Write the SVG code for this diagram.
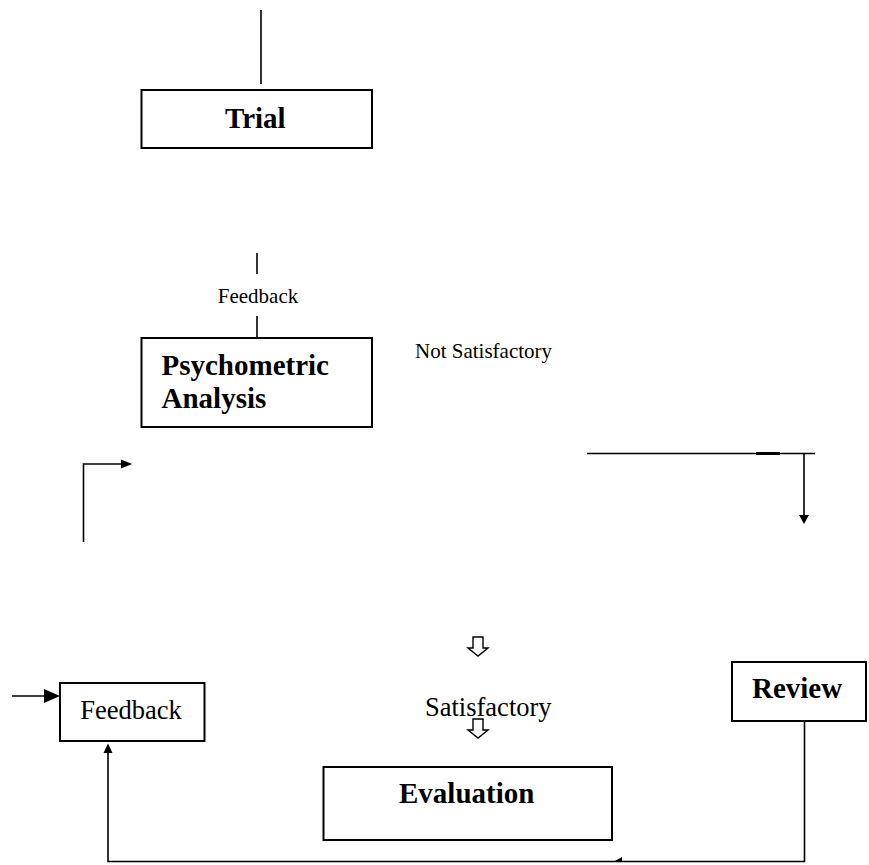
<svg xmlns="http://www.w3.org/2000/svg" width="869" height="865" viewBox="0 0 869 865">
  <style>
    .box { fill: #fff; stroke: #000; stroke-width: 2; }
    .ln { fill: none; stroke: #000; stroke-width: 1.6; }
    .head { fill: #000; stroke: none; }
    .hollow { fill: #fff; stroke: #000; stroke-width: 1.4; stroke-linejoin: miter; }
    .title { font-family: "Liberation Serif", "Times New Roman", serif; font-weight: bold; font-size: 29px; fill: #000; }
    .label { font-family: "Liberation Serif", "Times New Roman", serif; font-size: 26.5px; fill: #000; }
    .small { font-family: "Liberation Serif", "Times New Roman", serif; font-size: 21px; fill: #000; }
  </style>
  <defs>
    <path id="hollowDown" d="M -5 0 L 5 0 L 5 11 L 10 11 L 0 19 L -10 11 L -5 11 Z"/>
  </defs>

  <g id="connectors">
    <!-- line into Trial -->
    <line class="ln" x1="261" y1="10" x2="261" y2="84"/>
    <!-- Feedback link above Psychometric Analysis -->
    <line class="ln" x1="257" y1="253" x2="257" y2="274"/>
    <line class="ln" x1="257" y1="316" x2="257" y2="338"/>
    <text class="small" x="258" y="303" text-anchor="middle">Feedback</text>
    <text class="small" x="415" y="358">Not Satisfactory</text>
    <!-- elbow arrow on the left -->
    <polyline class="ln" points="83.5,542 83.5,464 122,464"/>
    <path class="head" d="M 121 459.5 L 132 464 L 121 468.5 Z"/>
    <!-- line and down arrow on the right -->
    <line class="ln" x1="587" y1="453.5" x2="815" y2="453.5"/>
    <line stroke="#000" stroke-width="3" x1="756" y1="453.5" x2="780" y2="453.5"/>
    <line class="ln" x1="804" y1="453.5" x2="804" y2="516"/>
    <path class="head" d="M 799 515 L 809 515 L 804 524 Z"/>
    <!-- hollow arrows towards Evaluation -->
    <use href="#hollowDown" class="hollow" x="478" y="637"/>
    <use href="#hollowDown" class="hollow" x="478" y="719"/>
    <text class="label" x="425" y="716">Satisfactory</text>
    <!-- input arrow into Feedback -->
    <line class="ln" x1="12" y1="696" x2="46" y2="696"/>
    <path class="head" d="M 44 689 L 60 696 L 44 703 Z"/>
    <!-- loop from Review back to Feedback -->
    <polyline class="ln" points="804.5,721 804.5,861.5 108,861.5 108,752"/>
    <path class="head" d="M 103.5 753 L 108 743.5 L 112.5 753 Z"/>
    <path class="head" d="M 614 861.5 L 622 857 L 622 861.5 Z"/>
  </g>

  <g id="trial">
    <rect class="box" x="141.5" y="90" width="230.5" height="58"/>
    <text class="title" x="225" y="128">Trial</text>
  </g>

  <g id="psychometric-analysis">
    <rect class="box" x="141.5" y="338" width="230.5" height="89"/>
    <text class="title" x="161.5" y="375">Psychometric</text>
    <text class="title" x="161.5" y="408">Analysis</text>
  </g>

  <g id="feedback">
    <rect class="box" x="60" y="683" width="144.5" height="58"/>
    <text class="label" x="131" y="719" text-anchor="middle">Feedback</text>
  </g>

  <g id="review">
    <rect class="box" x="732" y="662" width="134" height="59"/>
    <text class="title" x="752" y="698">Review</text>
  </g>

  <g id="evaluation">
    <rect class="box" x="323.5" y="767" width="288.5" height="73"/>
    <text class="title" x="399" y="803">Evaluation</text>
  </g>
</svg>
